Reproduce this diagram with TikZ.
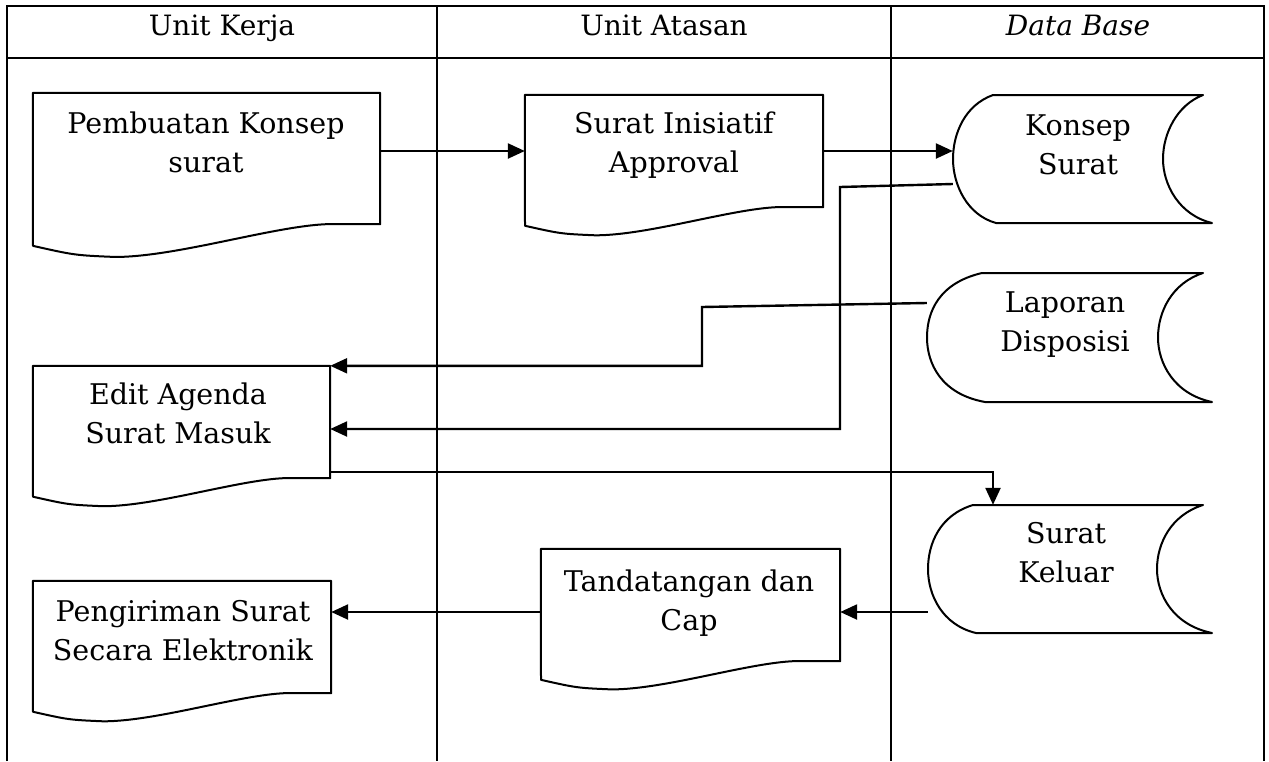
\documentclass[tikz,border=0pt]{standalone}
\usepackage{fontspec}
\setmainfont{DejaVu Serif}
\usetikzlibrary{arrows.meta,calc}
\tikzset{
  tbl/.style={line width=2.6pt},
  outline/.style={line width=2pt, line join=round},
  conn/.style={line width=2.4pt},
  arr/.style={conn, -{Triangle[length=17pt,width=15pt]}},
  boxnode/.style={draw=none, inner sep=0pt, rectangle},
  lbl/.style={anchor=north, align=center, inner sep=0pt, font=\fontsize{28.5}{39}\selectfont},
  hdr/.style={anchor=base, inner sep=0pt, font=\fontsize{28}{39}\selectfont},
}
% document symbol: name, L, T, R, right-bottom
\newcommand\docshape[5]{%
  \node[boxnode, minimum width={#4-#2}, minimum height={#5-#3}] (#1) at ({(#2+#4)/2},{(#3+#5)/2}) {};
  \pgfmathsetmacro\dw{#4-#2}%
  \draw[outline] ({#2},{#5+0.063*\dw}) -- (#1.north west) -- (#1.north east) -- (#1.south east)
    -- ({#4-0.135*\dw},#5)
    .. controls ({#4-0.29*\dw},#5) and ({#2+0.42*\dw},{#5+0.095*\dw}) .. ({#2+0.236*\dw},{#5+0.095*\dw})
    .. controls ({#2+0.12*\dw},{#5+0.09*\dw}) .. cycle;
}
% stored data symbol: name, L, T, R, B, inner right x, top-left offset
\newcommand\storeddata[7]{%
  \node[boxnode, minimum width={#4-#2}, minimum height={#5-#3}] (#1) at ({(#2+#4)/2},{(#3+#5)/2}) {};
  \draw[outline] ({#2+#7},#3) -- (#4,#3)
    .. controls ({#6+14},{#3+10}) and (#6,{#3+0.3*(#5-#3)}) .. (#6,{(#3+#5)/2})
    .. controls (#6,{#5-0.3*(#5-#3)}) and ({#6+16},{#5-8}) .. ({#4+9},#5)
    -- ({#2+#7+3},#5)
    .. controls ({#2+14},{#5-8}) and (#2,{#5-0.3*(#5-#3)}) .. (#2,{(#3+#5)/2})
    .. controls (#2,{#3+0.3*(#5-#3)}) and ({#2+12},{#3+10}) .. cycle;
}
\begin{document}
\begin{tikzpicture}[x=1pt,y=-1pt]
\useasboundingbox (0,0) rectangle (1269,761);
% table
\draw[tbl] (7,761) -- (7,6) -- (1264,6) -- (1264,761);
\draw[tbl] (7,58) -- (1264,58);
\draw[tbl] (437,6) -- (437,761);
\draw[tbl] (891,6) -- (891,761);
\node[hdr] (h1) at (222,35) {Unit Kerja};
\node[hdr] (h2) at (664,35) {Unit Atasan};
\node[hdr] (h3) at (1078,35) {\itshape Data Base};
% shapes
\docshape{pk}{33}{93}{380}{224}
\docshape{si}{525}{95}{823}{207}
\docshape{ea}{33}{366}{330}{478}
\docshape{tt}{541}{549}{840}{661}
\docshape{pg}{33}{581}{331}{693}
\storeddata{ks}{953}{95}{1203}{223}{1163}{40}
\storeddata{ld}{927}{273}{1203}{402}{1158}{55}
\storeddata{sk}{928}{505}{1203}{633}{1157}{45}
% texts
\node[lbl] (pk-t) at (206,106) {\strut Pembuatan Konsep\\surat};
\node[lbl] (si-t) at (674,106) {\strut Surat Inisiatif\\Approval};
\node[lbl] (ks-t) at (1078,108) {\strut Konsep\\Surat};
\node[lbl] (ld-t) at (1065,285) {\strut Laporan\\Disposisi};
\node[lbl] (ea-t) at (178,377) {\strut Edit Agenda\\Surat Masuk};
\node[lbl] (sk-t) at (1066,516) {\strut Surat\\Keluar};
\node[lbl] (tt-t) at (689,564) {\strut Tandatangan dan\\Cap};
\node[lbl] (pg-t) at (183,594) {\strut Pengiriman Surat\\Secara Elektronik};
% connectors
\draw[arr] (pk.east |- 0,151) -- (si.west |- 0,151);
\draw[arr] (si.east |- 0,151) -- (ks.west |- 0,151);
\draw[arr] (ks.west |- 0,184) -- (840,187) |- (ea.east |- 0,429);
\draw[arr] (ld.west |- 0,303) -- (702,307) |- (ea.north east);
\draw[arr] (ea.east |- 0,472) -| (sk.north -| 993,0);
\draw[arr] (sk.west |- 0,612) -- (tt.east |- 0,612);
\draw[arr] (tt.west |- 0,612) -- (pg.east |- 0,612);
\end{tikzpicture}
\end{document}
